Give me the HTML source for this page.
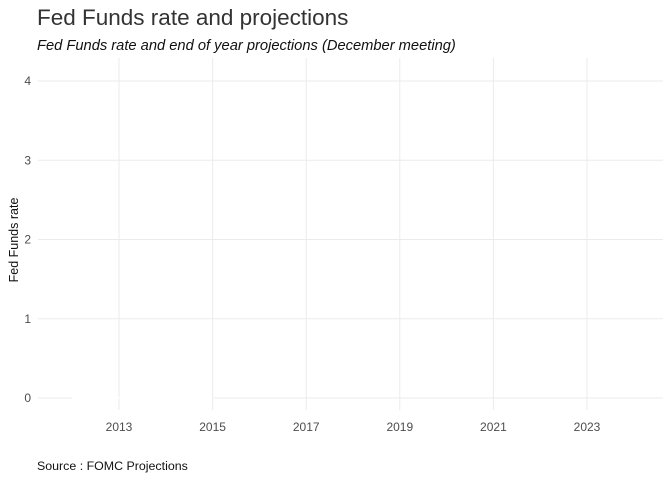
<!DOCTYPE html>
<html><head><meta charset="utf-8"><style>
body{margin:0;background:#fff;font-family:"Liberation Sans",sans-serif;}
svg text{font-family:"Liberation Sans",sans-serif;}
</style></head><body>
<svg id="chart" width="672" height="480" viewBox="0 0 672 480">
<text x="37" y="25" font-size="22.5" fill="#333">Fed Funds rate and projections</text>
<text x="37" y="50" font-size="14.7" font-style="italic" fill="#111">Fed Funds rate and end of year projections (December meeting)</text>
<text transform="translate(18,240) rotate(-90)" text-anchor="middle" font-size="12.5" fill="#111">Fed Funds rate</text>
<text x="37" y="470" font-size="12.4" fill="#111">Source : FOMC Projections</text>
<g id="grid"></g><g id="marks"></g><g id="labels"></g>
</svg>
<script>
const xTicks=[2013,2015,2017,2019,2021,2023];
const yTicks=[0,1,2,3,4];
const years=[2012,2013,2014,2015];
const rates=[0.0,0.0,0.0,0.0];
const x=v=>119+(v-2013)*46.8;
const y=v=>398-v*79.25;
const ns="http://www.w3.org/2000/svg";
const g=document.getElementById('grid'),lb=document.getElementById('labels'),mk=document.getElementById('marks');
function mkEl(t,a){const e=document.createElementNS(ns,t);for(const k in a)e.setAttribute(k,a[k]);return e;}
xTicks.forEach(t=>{const l=mkEl('line',{x1:x(t),x2:x(t),y1:58,y2:410,stroke:'#ebebeb','stroke-width':1});

g.appendChild(l);
const tx=mkEl('text',{x:x(t),y:431,'text-anchor':'middle','font-size':12,fill:'#4d4d4d'});tx.textContent=t;

lb.appendChild(tx);});
yTicks.forEach(t=>{const l=mkEl('line',{x1:38,x2:663,y1:y(t),y2:y(t),stroke:'#ebebeb','stroke-width':1});

g.appendChild(l);
const tx=mkEl('text',{x:31,y:y(t)+4,'text-anchor':'end','font-size':12,fill:'#4d4d4d'});tx.textContent=t;

lb.appendChild(tx);});
const p=mkEl('polyline',{points:years.map((v,i)=>x(v)+','+y(rates[i])).join(' '),fill:'none',stroke:'#fff','stroke-width':1});

mk.appendChild(p);
</script>
</body></html>
